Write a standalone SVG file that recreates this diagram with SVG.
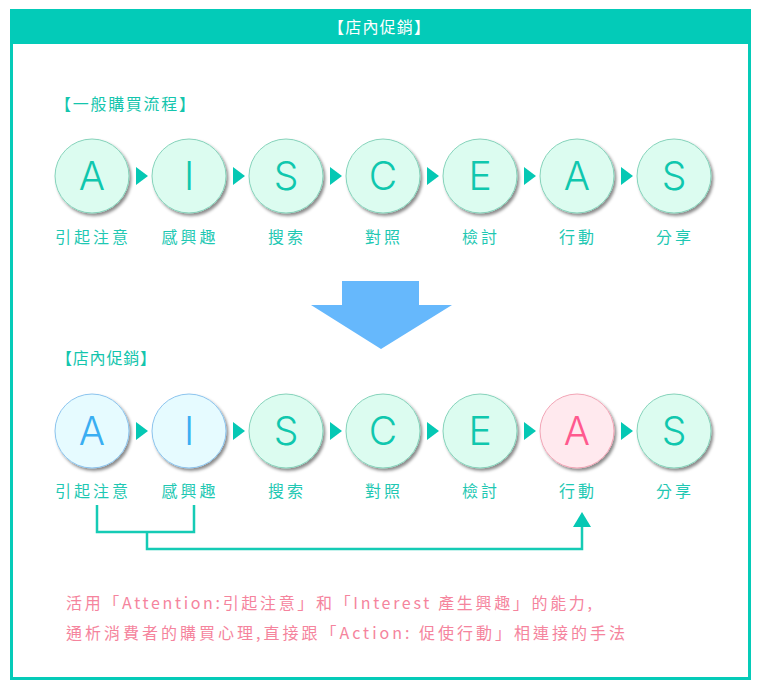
<svg xmlns="http://www.w3.org/2000/svg" width="759" height="688" viewBox="0 0 759 688">
<defs>
<filter id="sh" x="-20%" y="-20%" width="150%" height="150%">
<feDropShadow dx="2" dy="2.5" stdDeviation="1.5" flood-color="#000" flood-opacity="0.45"/>
</filter>
</defs>
<style>
.cg{fill:#dcfcf0;stroke:#86d3bb;stroke-width:1;filter:url(#sh)}
.cb{fill:#e6fbff;stroke:#8cc4ee;stroke-width:1;filter:url(#sh)}
.cp{fill:#ffe9ee;stroke:#f2a5b6;stroke-width:1;filter:url(#sh)}
.lt{font-family:Inter,"Liberation Sans",Arial,sans-serif;font-weight:300;font-size:39px;text-anchor:middle}
.lg{fill:#10c7ae}
.lb{fill:#3aaef2}
.lp{fill:#ff5a8e}
.lab{font-family:"Noto Sans CJK TC","Noto Sans CJK SC",sans-serif;font-size:16px;fill:#1fc8b3;text-anchor:middle;letter-spacing:3px}
.sub{font-family:"Noto Sans CJK TC","Noto Sans CJK SC",sans-serif;font-size:16px;fill:#14c5ad}
.tri{fill:#05c8b4}
.pk{font-family:"Noto Sans CJK TC","Noto Sans CJK SC",sans-serif;font-size:16px;fill:#f5849d}
.con{fill:none;stroke:#15cbb5;stroke-width:2.5}
</style>
<rect x="11.5" y="10.5" width="738" height="668" fill="#fff" stroke="#05cbb8" stroke-width="3"/>
<rect x="10" y="9" width="741" height="35" fill="#03cbb8"/>
<text x="328" y="33" font-family="'Noto Sans CJK TC','Noto Sans CJK SC',sans-serif" font-size="16" fill="#fff" textLength="102" lengthAdjust="spacing">【店內促銷】</text>

<text class="sub" x="55" y="110" textLength="140" lengthAdjust="spacing">【一般購買流程】</text>
<text class="sub" x="56" y="364" textLength="100" lengthAdjust="spacing">【店內促銷】</text>

<polygon points="342,281 419,281 419,305 452,305 381,349 311,305 342,305" fill="#66b8fc"/>

<g id="connectors">
<polygon class="tri" points="136,167 136,185 148,176"/>
<polygon class="tri" points="233,167 233,185 245,176"/>
<polygon class="tri" points="330,167 330,185 342,176"/>
<polygon class="tri" points="427,167 427,185 439,176"/>
<polygon class="tri" points="524,167 524,185 536,176"/>
<polygon class="tri" points="621,167 621,185 633,176"/>
<polygon class="tri" points="136,422 136,440 148,431"/>
<polygon class="tri" points="233,422 233,440 245,431"/>
<polygon class="tri" points="330,422 330,440 342,431"/>
<polygon class="tri" points="427,422 427,440 439,431"/>
<polygon class="tri" points="524,422 524,440 536,431"/>
<polygon class="tri" points="621,422 621,440 633,431"/>
<path class="con" d="M97,505 V532 H194 V505"/>
<path class="con" d="M147,532 V549 H582 V526"/>
<polygon class="tri" points="573,527 591,527 582,512"/>
</g>

<g id="n1"><circle class="cg" cx="92" cy="176" r="37"/><text class="lt lg" x="92" y="190">A</text><text class="lab" x="93" y="243">引起注意</text></g>
<g id="n2"><circle class="cg" cx="189" cy="176" r="37"/><text class="lt lg" x="189" y="190">I</text><text class="lab" x="190" y="243">感興趣</text></g>
<g id="n3"><circle class="cg" cx="286" cy="176" r="37"/><text class="lt lg" x="286" y="190">S</text><text class="lab" x="287" y="243">搜索</text></g>
<g id="n4"><circle class="cg" cx="383" cy="176" r="37"/><text class="lt lg" x="383" y="190">C</text><text class="lab" x="384" y="243">對照</text></g>
<g id="n5"><circle class="cg" cx="480" cy="176" r="37"/><text class="lt lg" x="480" y="190">E</text><text class="lab" x="481" y="243">檢討</text></g>
<g id="n6"><circle class="cg" cx="577" cy="176" r="37"/><text class="lt lg" x="577" y="190">A</text><text class="lab" x="578" y="243">行動</text></g>
<g id="n7"><circle class="cg" cx="674" cy="176" r="37"/><text class="lt lg" x="674" y="190">S</text><text class="lab" x="675" y="243">分享</text></g>

<g id="m1"><circle class="cb" cx="92" cy="431" r="37"/><text class="lt lb" x="92" y="445">A</text><text class="lab" x="93" y="497">引起注意</text></g>
<g id="m2"><circle class="cb" cx="189" cy="431" r="37"/><text class="lt lb" x="189" y="445">I</text><text class="lab" x="190" y="497">感興趣</text></g>
<g id="m3"><circle class="cg" cx="286" cy="431" r="37"/><text class="lt lg" x="286" y="445">S</text><text class="lab" x="287" y="497">搜索</text></g>
<g id="m4"><circle class="cg" cx="383" cy="431" r="37"/><text class="lt lg" x="383" y="445">C</text><text class="lab" x="384" y="497">對照</text></g>
<g id="m5"><circle class="cg" cx="480" cy="431" r="37"/><text class="lt lg" x="480" y="445">E</text><text class="lab" x="481" y="497">檢討</text></g>
<g id="m6"><circle class="cp" cx="577" cy="431" r="37"/><text class="lt lp" x="577" y="445">A</text><text class="lab" x="578" y="497">行動</text></g>
<g id="m7"><circle class="cg" cx="674" cy="431" r="37"/><text class="lt lg" x="674" y="445">S</text><text class="lab" x="675" y="497">分享</text></g>

<text class="pk" x="66" y="609" textLength="526" lengthAdjust="spacing">活用「Attention:引起注意」和「Interest 產生興趣」的能力,</text>
<text class="pk" x="66" y="639" textLength="559" lengthAdjust="spacing">通析消費者的購買心理,直接跟「Action: 促使行動」相連接的手法</text>
</svg>
